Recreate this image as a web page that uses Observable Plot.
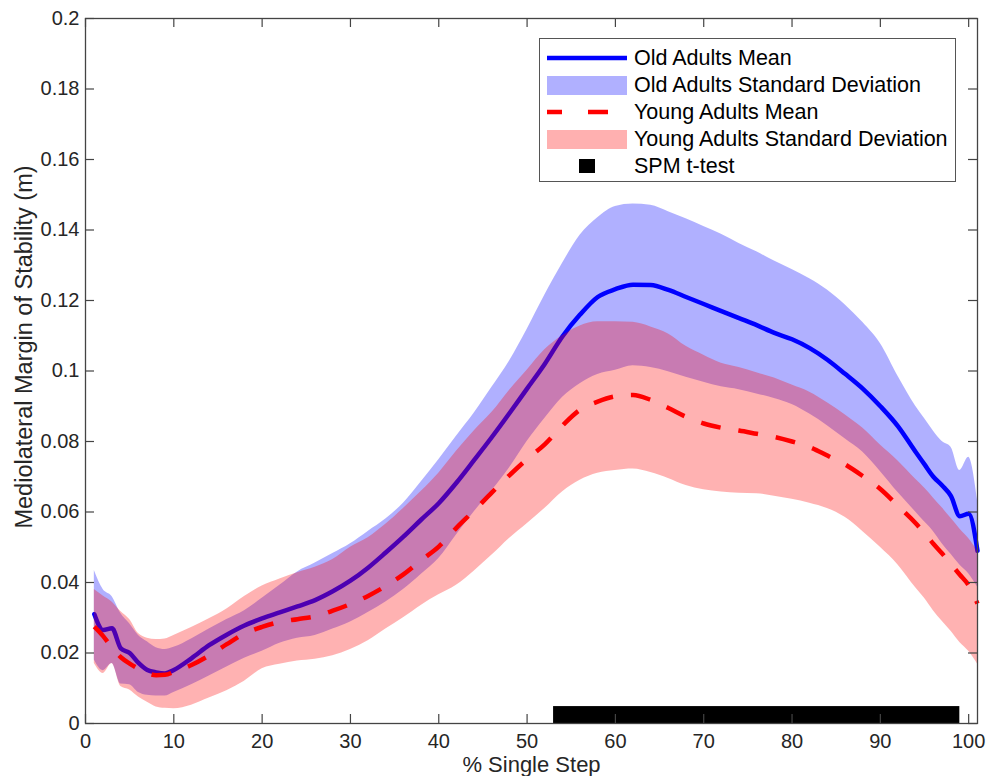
<!DOCTYPE html>
<html>
<head>
<meta charset="utf-8">
<script src="https://cdn.jsdelivr.net/npm/d3@7"></script>
<script src="https://cdn.jsdelivr.net/npm/@observablehq/plot@0.6"></script>
<style>
  html, body { margin: 0; padding: 0; background: #fff; }
  #wrap { position: relative; width: 998px; height: 776px; overflow: hidden; font-family: "Liberation Sans", Arial, sans-serif; }
  #legend { position: absolute; left: 539px; top: 38px; width: 417px; height: 144px; border: 1px solid #555; background: #fff; box-sizing: border-box; }
  .row { position: absolute; left: 0; height: 27px; width: 100%; }
  .row svg { position: absolute; left: 7px; top: 0; }
  .row span { position: absolute; left: 94px; top: 1px; font-size: 21.5px; color: #000; white-space: nowrap; line-height: 24px; }
</style>
</head>
<body>
<div id="wrap"><div id="chart"></div><div id="legend"></div></div>
<script>
// ---- data ----
const xPct = [1,2,3,4,5,6,7,8,9,10,12,14,16,18,20,22,24,26,28,30,32,34,36,38,40,42,44,46,48,50,52,54,56,58,60,62,64,66,68,70,72,74,76,78,80,82,84,86,88,90,92,94,95,96,97,98,99,100,101];
const oldMean = [.0310,.0265,.0270,.0213,.0200,.0172,.0152,.0145,.0142,.0152,
  .0185,.0222,.0252,.0278,.0298,.0315,.0332,.0350,.0375,.0405,
  .0442,.0485,.0530,.0578,.0625,.0683,.0747,.0812,.0880,.0950,
  .1020,.1098,.1160,.1210,.1232,.1245,.1244,.1230,.1210,.1190,
  .1170,.1150,.1130,.1108,.1090,.1065,.1032,.0992,.0950,.0900,
  .0843,.0770,.0735,.0700,.0675,.0645,.0588,.0595,.0490];
const oldUpper = [.0434,.0380,.0360,.0312,.0283,.0250,.0232,.0215,.0210,.0216,
  .0240,.0268,.0295,.0320,.0355,.0392,.0430,.0455,.0482,.0510,
  .0545,.0580,.0625,.0685,.0748,.0815,.0880,.0953,.1028,.1118,
  .1215,.1305,.1385,.1435,.1467,.1474,.1470,.1452,.1432,.1410,
  .1388,.1362,.1338,.1312,.1288,.1262,.1230,.1188,.1138,.1078,
  .0985,.0900,.0865,.0830,.0800,.0784,.0718,.0755,.0633];
const oldLower = [.0180,.0150,.0170,.0112,.0110,.0088,.0080,.0078,.0078,.0088,
  .0110,.0135,.0160,.0185,.0205,.0228,.0242,.0250,.0268,.0288,
  .0315,.0345,.0380,.0423,.0468,.0535,.0600,.0660,.0725,.0800,
  .0865,.0925,.0964,.0990,.1002,.1015,.1010,.0998,.0982,.0968,
  .0955,.0947,.0935,.0922,.0905,.0878,.0845,.0808,.0770,.0715,
  .0655,.0600,.0572,.0545,.0510,.0480,.0450,.0425,.0387];
const youngMean = [.0275,.0248,.0215,.0188,.0170,.0155,.0143,.0137,.0138,.0146,
  .0166,.0193,.0225,.0255,.0274,.0288,.0296,.0304,.0320,.0339,
  .0362,.0390,.0423,.0463,.0502,.0555,.0604,.0655,.0704,.0750,
  .0792,.0845,.0890,.0913,.0928,.0932,.0918,.0895,.0870,.0851,
  .0839,.0831,.0822,.0813,.0800,.0784,.0760,.0735,.0702,.0665,
  .0617,.0568,.0540,.0510,.0482,.0452,.0422,.0392,.0340];
const youngUpper = [.0380,.0362,.0345,.0318,.0295,.0255,.0242,.0238,.0240,.0250,
  .0272,.0297,.0325,.0360,.0390,.0410,.0428,.0443,.0465,.0500,
  .0527,.0565,.0610,.0658,.0710,.0772,.0830,.0882,.0945,.1002,
  .1060,.1100,.1128,.1140,.1140,.1138,.1125,.1105,.1070,.1045,
  .1022,.1010,.0995,.0980,.0960,.0940,.0910,.0876,.0838,.0790,
  .0745,.0693,.0668,.0640,.0612,.0582,.0552,.0525,.0490];
const youngLower = [.0170,.0142,.0170,.0105,.0095,.0075,.0060,.0047,.0043,.0042,
  .0052,.0072,.0093,.0120,.0155,.0168,.0177,.0182,.0192,.0210,
  .0235,.0268,.0300,.0335,.0365,.0392,.0432,.0477,.0525,.0567,
  .0610,.0657,.0690,.0710,.0718,.0722,.0712,.0695,.0675,.0663,
  .0657,.0653,.0652,.0645,.0636,.0625,.0610,.0585,.0545,.0500,
  .0450,.0385,.0355,.0320,.0290,.0262,.0230,.0205,.0169];
const spmClusters = [{start: 53, end: 99, height: 0.0048}];
const xTicks = [0,10,20,30,40,50,60,70,80,90,100];
const yTicks = [0,0.02,0.04,0.06,0.08,0.1,0.12,0.14,0.16,0.18,0.2];
const xLabel = "% Single Step";
const yLabel = "Mediolateral Margin of Stability (m)";
const legendItems = [
  {label: "Old Adults Mean", kind: "line", color: "#0000ff"},
  {label: "Old Adults Standard Deviation", kind: "patch", color: "#0000ff"},
  {label: "Young Adults Mean", kind: "dash", color: "#ff0000"},
  {label: "Young Adults Standard Deviation", kind: "patch", color: "#ff0000"},
  {label: "SPM t-test", kind: "square", color: "#000000"}
];

const rows = xPct.map((x, i) => ({x, om: oldMean[i], ou: oldUpper[i], ol: oldLower[i], ym: youngMean[i], yu: youngUpper[i], yl: youngLower[i]}));

const W = 998, H = 776, mL = 85, mR = 21, mT = 18, mB = 53;
const fw = W - mL - mR, fh = H - mT - mB, tk = 9;
const axisColor = "#444";
const txt = "#262626";
const curve = "monotone-x";

const chart = Plot.plot({
  width: W, height: H,
  marginLeft: mL, marginRight: mR, marginTop: mT, marginBottom: mB,
  style: {fontFamily: '"Liberation Sans", Arial, sans-serif', fontSize: "20px", color: txt, background: "#fff", overflow: "visible"},
  x: {domain: [0, 101]},
  y: {domain: [0, 0.2]},
  marks: [
    Plot.areaY(rows, {x: "x", y1: "ol", y2: "ou", curve, fill: "#0000ff", fillOpacity: 0.31}),
    Plot.line(rows, {x: "x", y: "om", curve, stroke: "#0000ff", strokeWidth: 4.5, strokeLinejoin: "round"}),
    Plot.areaY(rows, {x: "x", y1: "yl", y2: "yu", curve, fill: "#ff0000", fillOpacity: 0.3}),
    Plot.line(rows, {x: "x", y: "ym", curve, stroke: "#ff0000", strokeWidth: 4.5, strokeDasharray: "20,18", strokeLinecap: "butt"}),
    Plot.rect(spmClusters, {x1: "start", x2: "end", y1: 0, y2: "height", fill: "#000"}),
    Plot.frame({stroke: axisColor, strokeWidth: 1.3}),
    // inward ticks (MATLAB box style)
    Plot.tickX(xTicks, {x: d => d, insetTop: fh - tk, stroke: axisColor, strokeWidth: 1.2}),
    Plot.tickX(xTicks, {x: d => d, insetBottom: fh - tk, stroke: axisColor, strokeWidth: 1.2}),
    Plot.tickY(yTicks, {y: d => d, insetRight: fw - tk, stroke: axisColor, strokeWidth: 1.2}),
    Plot.tickY(yTicks, {y: d => d, insetLeft: fw - tk, stroke: axisColor, strokeWidth: 1.2}),
    Plot.axisX(xTicks, {tickSize: 0, tickPadding: 10, label: null, fontSize: 20, fill: txt}),
    Plot.axisY(yTicks, {tickSize: 0, tickPadding: 6, label: null, fontSize: 20, fill: txt, tickFormat: d => d === 0 ? "0" : String(+d.toFixed(2))}),
    Plot.text([xLabel], {frameAnchor: "bottom", dy: 48, fontSize: 22, fill: txt}),
    Plot.text([yLabel], {frameAnchor: "left", textAnchor: "middle", rotate: -90, dx: -61, dy: -24, fontSize: 23.5, fill: txt})
  ]
});
document.getElementById("chart").appendChild(chart);

// legend box inside the axes (MATLAB style)
const leg = document.getElementById("legend");
legendItems.forEach((it, i) => {
  const row = document.createElement("div");
  row.className = "row";
  row.style.top = (6 + i * 27) + "px";
  let sw = "";
  if (it.kind === "line") sw = `<line x1="0" x2="80" y1="13" y2="13" stroke="${it.color}" stroke-width="4.5"/>`;
  if (it.kind === "dash") sw = `<line x1="0" x2="80" y1="13" y2="13" stroke="${it.color}" stroke-width="4.5" stroke-dasharray="15,26,20,19"/>`;
  if (it.kind === "patch") sw = `<rect x="0" y="4" width="80" height="19" fill="${it.color}" fill-opacity="0.31"/>`;
  if (it.kind === "square") sw = `<rect x="32" y="6" width="16" height="14" fill="${it.color}"/>`;
  row.innerHTML = `<svg width="82" height="27">${sw}</svg><span>${it.label}</span>`;
  leg.appendChild(row);
});
</script>
</body>
</html>
